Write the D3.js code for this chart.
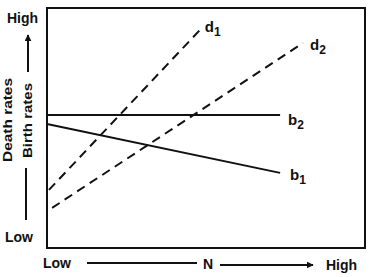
<!DOCTYPE html>
<html>
<head>
<meta charset="utf-8">
<script src="https://cdn.jsdelivr.net/npm/d3@7"></script>
<style>
  body { margin: 0; background: #fff; }
  text { font-family: "Liberation Sans", Arial, sans-serif; font-weight: bold; fill: #111; }
</style>
</head>
<body>
<svg width="374" height="277"></svg>
<script>
// ************** Data *****************
// x: population size N (0..100), y: rate (0..100)
const seriesNames = ["b1", "b2", "d1", "d2"];
const b1 = [[0, 51.7], [73.3, 31.3]];
const b2 = [[0, 55.4], [73.3, 55.4]];
const d1 = [[0.6, 24.2], [48.7, 91.7]];
const d2 = [[1.6, 16.7], [80.5, 85.4]];
const xTickLabels = ["Low", "High"];
const yTickLabels = ["Low", "High"];

// ************** Setup *****************
let svg = d3.select("svg");

const plotLeft = 47, plotRight = 365, plotTop = 8, plotBottom = 248;

let xScale = d3.scaleLinear().domain([0, 100]).range([plotLeft, plotRight]);
let yScale = d3.scaleLinear().domain([0, 100]).range([plotBottom, plotTop]);

let defs = svg.append("defs");
defs.append("marker")
    .attr("id", "arrow")
    .attr("viewBox", "0 0 10 10")
    .attr("refX", 9).attr("refY", 5)
    .attr("markerWidth", 7).attr("markerHeight", 7)
    .attr("markerUnits", "userSpaceOnUse")
    .attr("orient", "auto")
    .append("path")
    .attr("d", "M0,0 L10,5 L0,10 z")
    .attr("fill", "#111");

// frame
svg.append("rect")
    .attr("x", plotLeft).attr("y", plotTop)
    .attr("width", plotRight - plotLeft).attr("height", plotBottom - plotTop)
    .attr("fill", "none").attr("stroke", "#111").attr("stroke-width", 2);

let line = d3.line()
    .x(function(d) { return xScale(d[0]); })
    .y(function(d) { return yScale(d[1]); });

const series = { b1: b1, b2: b2, d1: d1, d2: d2 };

seriesNames.forEach(function(name) {
    svg.append("path")
        .datum(series[name])
        .attr("d", line)
        .attr("fill", "none")
        .attr("stroke", "#111")
        .attr("stroke-width", 2)
        .attr("stroke-dasharray", name[0] === "d" ? "9,6" : null);
});

// series labels, placed off the end point of each line
const labelOffset = { b1: [10, 7], b2: [8, 10], d1: [3, 4], d2: [7, 7] };
seriesNames.forEach(function(name) {
    let end = series[name][series[name].length - 1];
    let t = svg.append("text")
        .attr("x", xScale(end[0]) + labelOffset[name][0])
        .attr("y", yScale(end[1]) + labelOffset[name][1])
        .attr("font-size", 15);
    t.append("tspan").text(name[0]);
    t.append("tspan").attr("dy", 4).attr("font-size", 12).text(name[1]);
});

// y axis texts
svg.append("text").attr("x", 7).attr("y", 23).attr("font-size", 14).text(yTickLabels[1]);
svg.append("text").attr("x", 5).attr("y", 242).attr("font-size", 14).text(yTickLabels[0]);

svg.append("text")
    .attr("transform", "translate(12,162) rotate(-90)")
    .attr("font-size", 13)
    .attr("textLength", 84).attr("lengthAdjust", "spacingAndGlyphs")
    .text("Death rates");
svg.append("text")
    .attr("transform", "translate(32,158) rotate(-90)")
    .attr("font-size", 13)
    .attr("textLength", 75).attr("lengthAdjust", "spacingAndGlyphs")
    .text("Birth rates");

svg.append("line")
    .attr("x1", 28).attr("y1", 72).attr("x2", 28).attr("y2", 35)
    .attr("stroke", "#111").attr("stroke-width", 2)
    .attr("marker-end", "url(#arrow)");
svg.append("line")
    .attr("x1", 26).attr("y1", 168).attr("x2", 26).attr("y2", 220)
    .attr("stroke", "#111").attr("stroke-width", 2);

// x axis texts
svg.append("text").attr("x", 43).attr("y", 268).attr("font-size", 14).text(xTickLabels[0]);
svg.append("text").attr("x", 326).attr("y", 270).attr("font-size", 14).text(xTickLabels[1]);
svg.append("text").attr("x", 203).attr("y", 269).attr("font-size", 14).text("N");

svg.append("line")
    .attr("x1", 87).attr("y1", 263).attr("x2", 197).attr("y2", 263)
    .attr("stroke", "#111").attr("stroke-width", 2);
svg.append("line")
    .attr("x1", 220).attr("y1", 265).attr("x2", 313).attr("y2", 265)
    .attr("stroke", "#111").attr("stroke-width", 2)
    .attr("marker-end", "url(#arrow)");
</script>
</body>
</html>
